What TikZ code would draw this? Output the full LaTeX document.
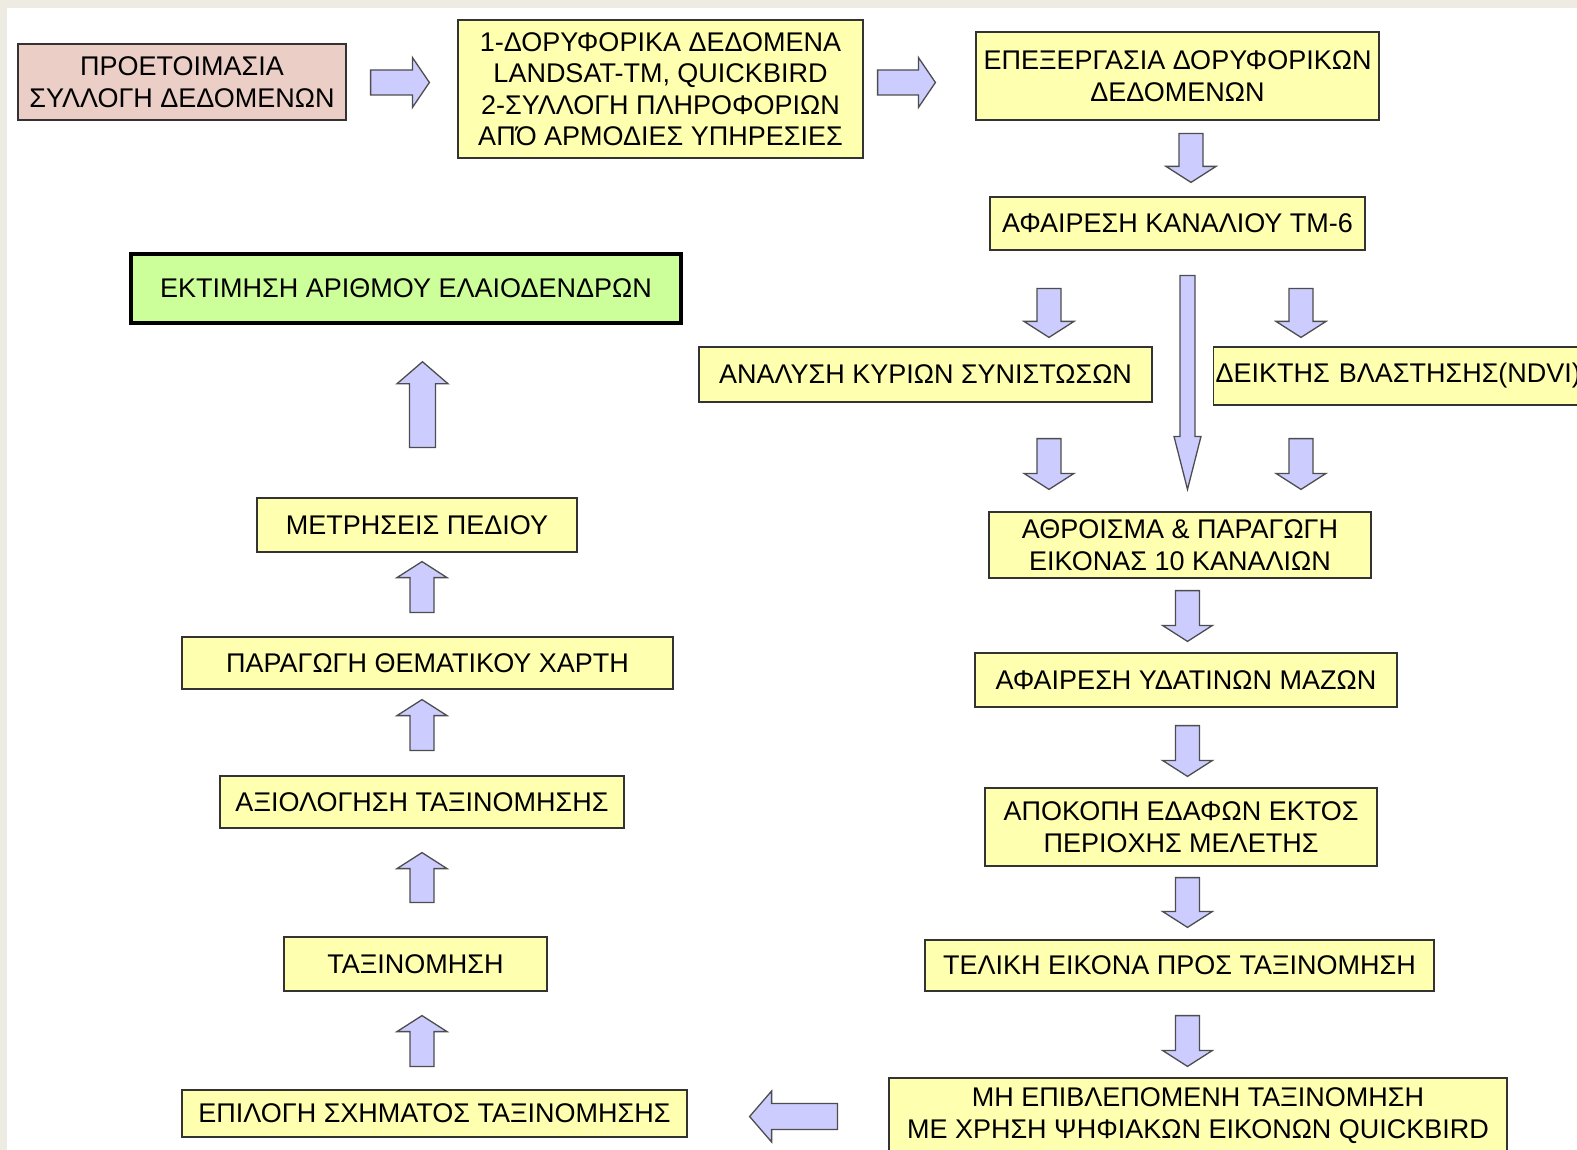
\documentclass[tikz,border=0pt]{standalone}
\usepackage{fontspec}
\setmainfont{Liberation Sans}
\usetikzlibrary{calc}
\definecolor{boxfill}{HTML}{FFFFB0}
\definecolor{pinkfill}{HTML}{EBCEC6}
\definecolor{greenfill}{HTML}{CCFF99}
\definecolor{arrowfill}{HTML}{CCCCFF}
\definecolor{arrowline}{HTML}{4D4D4D}
\definecolor{boxline}{HTML}{333333}
\definecolor{pageedge}{HTML}{EEECE2}
\tikzset{
    block/.style = {draw=boxline, fill=boxfill, rectangle, line width=1.2pt,
        inner sep=0pt, align=center, font=\fontsize{27}{31.5}\selectfont},
    bigarrow/.style n args = {3}{draw=arrowline, fill=arrowfill, line width=1.3pt,
        to path={let \p1=(\tikztostart), \p2=(\tikztotarget),
            \p3=($(\tikztotarget)!#3!(\tikztostart)$) in
            ($(\p1)!#1!90:(\p2)$) -- ($(\p3)!#1!90:(\p2)$) -- ($(\p3)!#2!90:(\p2)$) -- (\p2)
            -- ($(\p3)!#2!-90:(\p2)$) -- ($(\p3)!#1!-90:(\p2)$) -- ($(\p1)!#1!-90:(\p2)$) -- cycle}},
    sidearrow/.style = {bigarrow={12.5pt}{25pt}{17pt}},
    steparrow/.style = {bigarrow={12pt}{25pt}{16pt}},
    tallarrow/.style = {bigarrow={13pt}{25.5pt}{22pt}},
    thinarrow/.style = {bigarrow={7.5pt}{13.5pt}{53pt}}
}

\begin{document}
\begin{tikzpicture}[x=1pt, y=-1pt]
    \useasboundingbox (0,0) rectangle (1577,1150);
    \clip (0,0) rectangle (1577,1150);
    \fill[pageedge] (0,0) rectangle (1577,1150);
    \fill[white] (7,8) rectangle (1577,1150);

    \node [block, fill=pinkfill, minimum width=328, minimum height=76] (prep) at (182,82) {ΠΡΟΕΤΟΙΜΑΣΙΑ\\ΣΥΛΛΟΓΗ ΔΕΔΟΜΕΝΩΝ};
    \node [block, minimum width=405, minimum height=138] (data) at (660.5,89) {1-ΔΟΡΥΦΟΡΙΚΑ ΔΕΔΟΜΕΝΑ\\LANDSAT-TM, QUICKBIRD\\2-ΣΥΛΛΟΓΗ ΠΛΗΡΟΦΟΡΙΩΝ\\ΑΠΌ ΑΡΜΟΔΙΕΣ ΥΠΗΡΕΣΙΕΣ};
    \node [block, minimum width=403, minimum height=88] (proc) at (1177.5,76) {ΕΠΕΞΕΡΓΑΣΙΑ ΔΟΡΥΦΟΡΙΚΩΝ\\ΔΕΔΟΜΕΝΩΝ};
    \node [block, minimum width=375, minimum height=53] (tm6) at (1177.5,223.5) {ΑΦΑΙΡΕΣΗ ΚΑΝΑΛΙΟΥ ΤΜ-6};
    \node [block, fill=greenfill, draw=black, line width=3.5pt, minimum width=550, minimum height=69] (trees) at (406,288.5) {ΕΚΤΙΜΗΣΗ ΑΡΙΘΜΟΥ ΕΛΑΙΟΔΕΝΔΡΩΝ};
    \node [block, minimum width=453, minimum height=55] (pca) at (925.5,374.5) {ΑΝΑΛΥΣΗ ΚΥΡΙΩΝ ΣΥΝΙΣΤΩΣΩΝ};
    \node [block, anchor=west, inner xsep=2pt, text width=383, align=left, minimum height=58] (ndvi) at (1213,376) {ΔΕΙΚΤΗΣ ΒΛΑΣΤΗΣΗΣ(NDVI)};
    \node [block, minimum width=382, minimum height=66] (sum) at (1180,545) {ΑΘΡΟΙΣΜΑ \& ΠΑΡΑΓΩΓΗ\\ΕΙΚΟΝΑΣ 10 ΚΑΝΑΛΙΩΝ};
    \node [block, minimum width=422, minimum height=54] (water) at (1186,680) {ΑΦΑΙΡΕΣΗ ΥΔΑΤΙΝΩΝ ΜΑΖΩΝ};
    \node [block, minimum width=392, minimum height=78] (cut) at (1181,827) {ΑΠΟΚΟΠΗ ΕΔΑΦΩΝ ΕΚΤΟΣ\\ΠΕΡΙΟΧΗΣ ΜΕΛΕΤΗΣ};
    \node [block, minimum width=509, minimum height=51] (final) at (1179.5,965.5) {ΤΕΛΙΚΗ ΕΙΚΟΝΑ ΠΡΟΣ ΤΑΞΙΝΟΜΗΣΗ};
    \node [block, minimum width=618, minimum height=75] (unsup) at (1198,1115.5) {ΜΗ ΕΠΙΒΛΕΠΟΜΕΝΗ ΤΑΞΙΝΟΜΗΣΗ\\ΜΕ ΧΡΗΣΗ ΨΗΦΙΑΚΩΝ ΕΙΚΟΝΩΝ QUICKBIRD};
    \node [block, minimum width=505, minimum height=47] (scheme) at (434.5,1113.5) {ΕΠΙΛΟΓΗ ΣΧΗΜΑΤΟΣ ΤΑΞΙΝΟΜΗΣΗΣ};
    \node [block, minimum width=263, minimum height=54] (class) at (415.5,964) {ΤΑΞΙΝΟΜΗΣΗ};
    \node [block, minimum width=404, minimum height=52] (assess) at (422,802) {ΑΞΙΟΛΟΓΗΣΗ ΤΑΞΙΝΟΜΗΣΗΣ};
    \node [block, minimum width=491, minimum height=52] (map) at (427.5,663) {ΠΑΡΑΓΩΓΗ ΘΕΜΑΤΙΚΟΥ ΧΑΡΤΗ};
    \node [block, minimum width=320, minimum height=54] (field) at (417,525) {ΜΕΤΡΗΣΕΙΣ ΠΕΔΙΟΥ};

    \draw [sidearrow] ($(prep.east)+(24,0.5)$) to ($(data.west)+(-28,-6.5)$);
    \draw [sidearrow] ($(data.east)+(14,-6.5)$) to ($(proc.west)+(-40,6.5)$);
    \draw [steparrow] ($(proc.south)+(13.5,13)$) to ($(tm6.north)+(13.5,-14)$);
    \draw [steparrow] ($(tm6.south)+(-128.5,38)$) to ($(pca.north)+(123.5,-9)$);
    \draw [thinarrow] ($(tm6.south)+(10,25)$) to ($(sum.north)+(7.5,-22)$);
    \draw [steparrow] ($(tm6.south)+(123.5,38)$) to ($(ndvi.north west)+(88,-9)$);
    \draw [steparrow] ($(pca.south)+(123.5,36)$) to ($(sum.north)+(-131,-22)$);
    \draw [steparrow] ($(ndvi.south west)+(88,33)$) to ($(sum.north)+(121,-22)$);
    \draw [steparrow] ($(sum.south)+(7.5,12)$) to ($(water.north)+(1.5,-11)$);
    \draw [steparrow] ($(water.south)+(1.5,18)$) to ($(cut.north)+(6.5,-11)$);
    \draw [steparrow] ($(cut.south)+(6.5,11)$) to ($(final.north)+(8,-12)$);
    \draw [steparrow] ($(final.south)+(8,24)$) to ($(unsup.north)+(-10.5,-11)$);
    \draw [tallarrow] ($(unsup.west)+(-51,1)$) to ($(scheme.east)+(62,3)$);
    \draw [steparrow] ($(scheme.north)+(-12.5,-23)$) to ($(class.south)+(6.5,24)$);
    \draw [steparrow] ($(class.north)+(6.5,-34)$) to ($(assess.south)+(0,24)$);
    \draw [steparrow] ($(assess.north)+(0,-25)$) to ($(map.south)+(-5.5,10)$);
    \draw [steparrow] ($(map.north)+(-5.5,-24)$) to ($(field.south)+(5,9)$);
    \draw [tallarrow] ($(field.north)+(5.5,-50)$) to ($(trees.south)+(16.5,37)$);
\end{tikzpicture}
\end{document}
